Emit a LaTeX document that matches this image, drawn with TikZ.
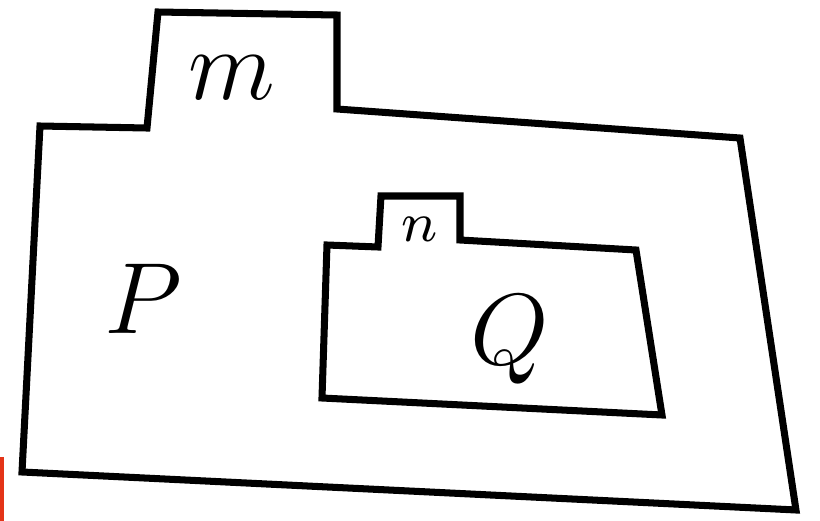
\documentclass[tikz,border=0pt]{standalone}
\usepackage{xcolor}
\definecolor{edgered}{RGB}{228,52,24}
\tikzset{
	outline/.style = {line width = 1pt, line join = miter},
	lbl/.style = {inner sep = 0pt}
}
\begin{document}
\begin{tikzpicture}[x = 0.05mm, y = -0.05mm]
		\useasboundingbox (0,0) rectangle (820,521);
		\draw [outline] (40,126) -- (147,128) -- (158,12) -- (337,15) -- (337,109) -- (740,138) -- (796,510) -- (22,472) -- cycle;
		\draw [outline] (327,245) -- (378,247) -- (381,196) -- (460,196) -- (460,240) -- (636,250) -- (662,415) -- (322,398) -- cycle;
		\node [lbl] (m) at (232,78) {\fontsize{14.4}{16}\selectfont $m$};
		\node [lbl] (n) at (420,229) {\fontsize{8.5}{10}\selectfont $n$};
		\node [lbl] (P) at (143,299) {\fontsize{14.4}{16}\selectfont $P$};
		\node [lbl] (Q) at (510,340) {\fontsize{14.4}{16}\selectfont $Q$};
		\draw [edgered, line width = 0.6pt] (2,457) -- (2,521);
%		\draw [red] (0,0) grid[step=100] (820,521);
	\end{tikzpicture}
\end{document}
